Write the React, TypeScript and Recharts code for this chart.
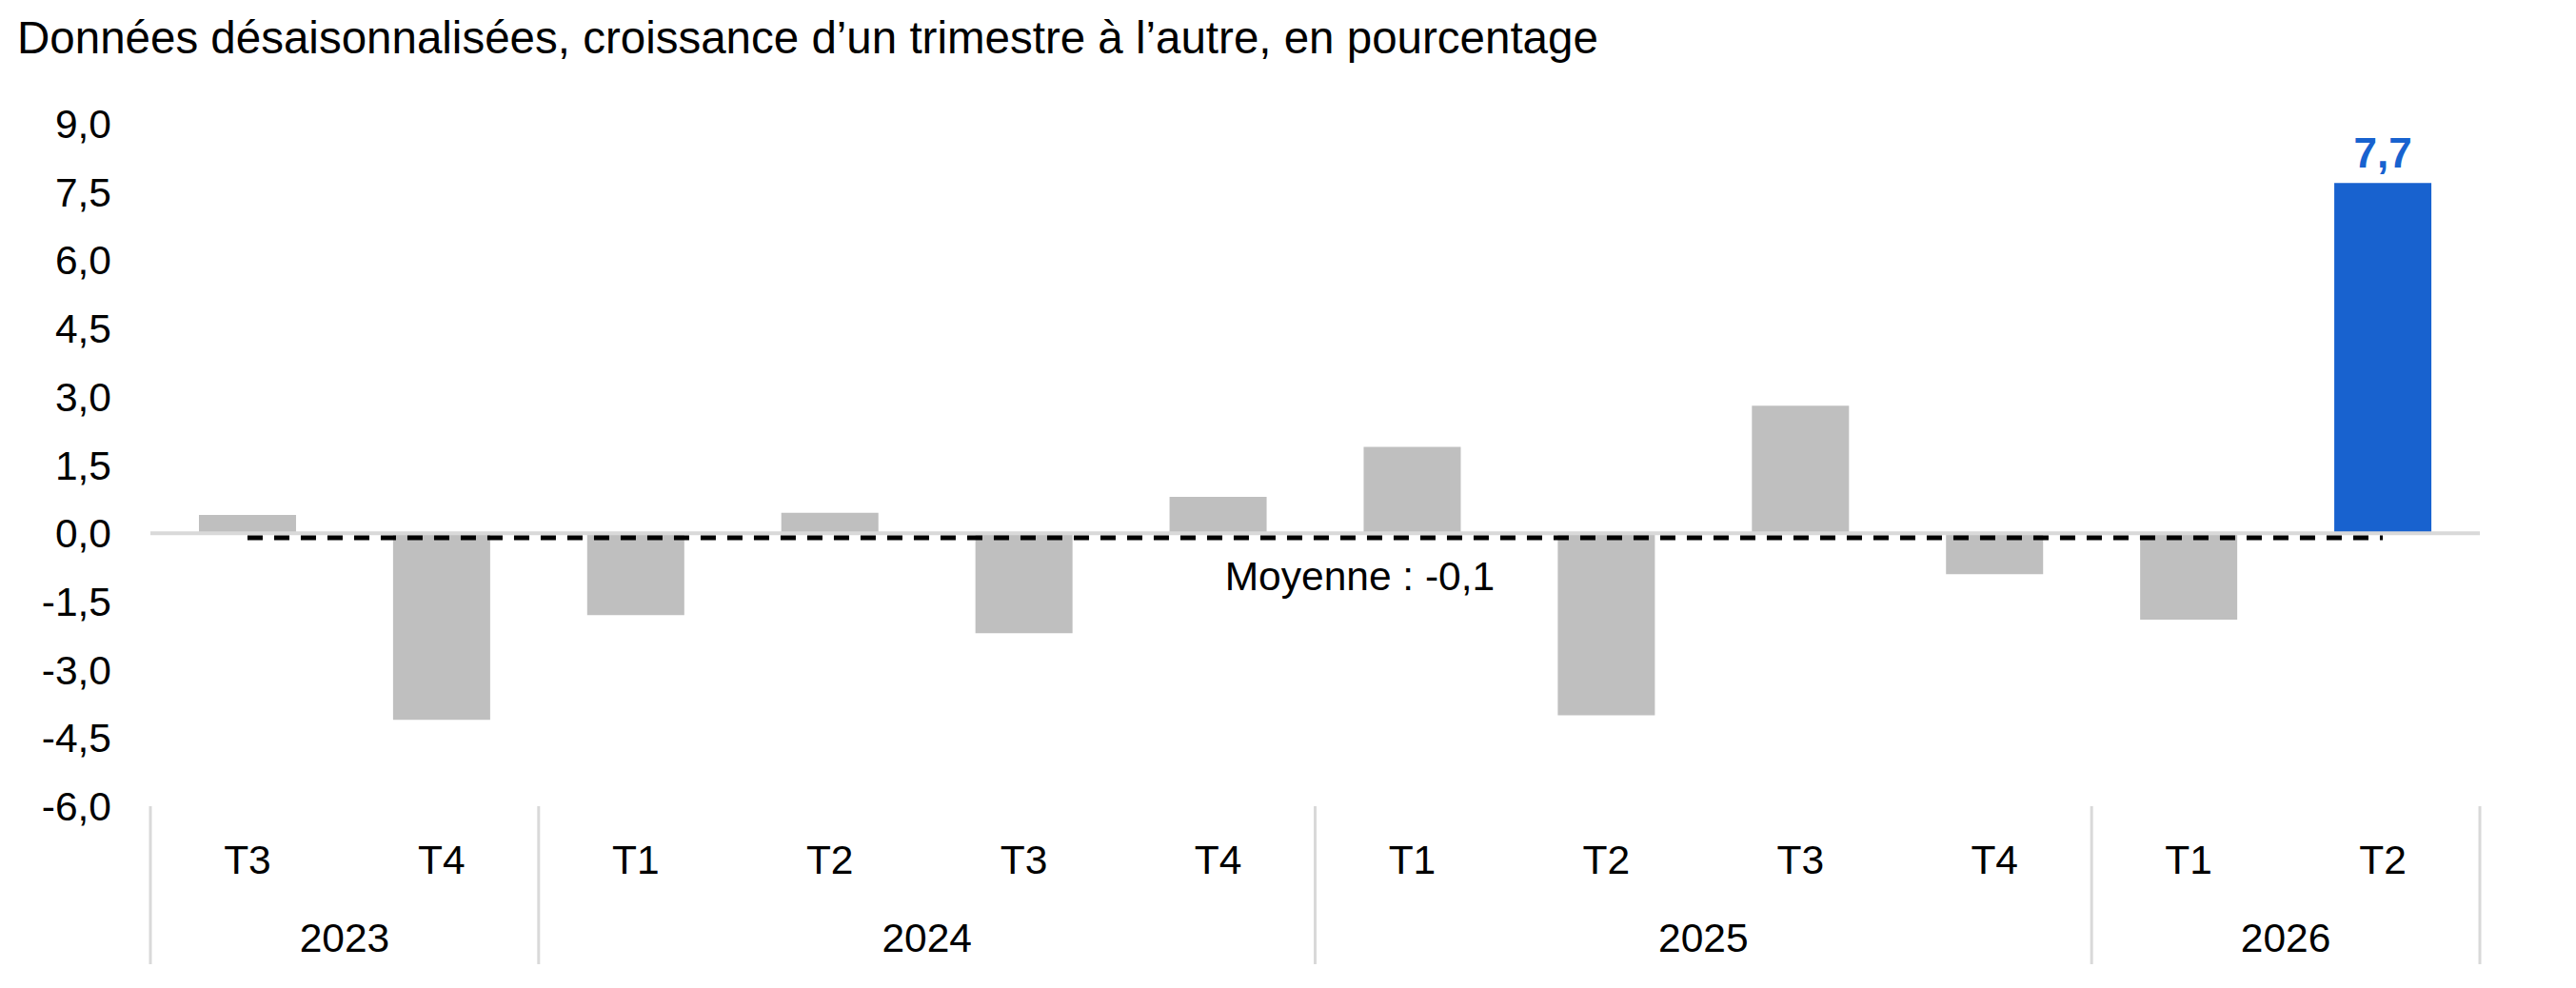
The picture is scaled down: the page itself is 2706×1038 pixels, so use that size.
import { ComposedChart, Bar, Line, XAxis, YAxis, ReferenceLine, Cell, LabelList } from 'recharts'

const TITRE = 'Données désaisonnalisées, croissance d’un trimestre à l’autre, en pourcentage'
const TRIMESTRES = ['T3', 'T4', 'T1', 'T2', 'T3', 'T4', 'T1', 'T2', 'T3', 'T4', 'T1', 'T2']
const ANNEES = ['2023', '2023', '2024', '2024', '2024', '2024', '2025', '2025', '2025', '2025', '2026', '2026']
const CROISSANCE = [0.4, -4.1, -1.8, 0.45, -2.2, 0.8, 1.9, -4.0, 2.8, -0.9, -1.9, 7.7]
const MOYENNE = -0.1
const Y_TICKS = [-6, -4.5, -3, -1.5, 0, 1.5, 3, 4.5, 6, 7.5, 9]

const donnees = TRIMESTRES.map((t, i) => ({
  trimestre: t,
  annee: ANNEES[i],
  valeur: CROISSANCE[i],
  moyenne: MOYENNE
}))
const DERNIER = donnees.length - 1

const GRIS = '#bfbfbf'
const BLEU = '#1862cf'
const TRAIT = '#d9d9d9'
const POLICE = '"Liberation Sans", Arial, sans-serif'

const virgule = (v: number) => v.toFixed(1).replace('.', ',')

// étiquettes à deux niveaux : trimestre puis année, avec séparateurs
function TickTrimestre (props: any) {
  const { x, y, payload, width, visibleTicksCount } = props
  const i = props.index ?? payload.index
  const demi = typeof payload.offset === 'number' && payload.offset > 0
    ? payload.offset
    : width / visibleTicksCount / 2
  const annee = ANNEES[i]
  const debut = i === 0 || ANNEES[i - 1] !== annee
  const fin = i === ANNEES.length - 1
  const n = ANNEES.filter(a => a === annee).length
  return (
    <g>
      <text x={x} y={y + 71} textAnchor="middle" fontSize={42.5} fontFamily={POLICE} fill="#000">
        {payload.value}
      </text>
      {debut && (
        <>
          <line x1={x - demi} x2={x - demi} y1={y} y2={y + 166} stroke={TRAIT} strokeWidth={3} />
          <text x={x - demi + n * demi} y={y + 153} textAnchor="middle" fontSize={42.5} fontFamily={POLICE} fill="#000">
            {annee}
          </text>
        </>
      )}
      {fin && <line x1={x + demi} x2={x + demi} y1={y} y2={y + 166} stroke={TRAIT} strokeWidth={3} />}
    </g>
  )
}

function EtiquetteBleue (props: any) {
  const { x, y, width, index, value } = props
  if (index !== DERNIER) return null
  return (
    <text x={x + width / 2} y={y - 16} textAnchor="middle" fontSize={44} fontWeight="bold" fontFamily={POLICE} fill={BLEU}>
      {virgule(value)}
    </text>
  )
}

function EtiquetteMoyenne (props: any) {
  const { x, y, index, value } = props
  if (index !== 6) return null
  return (
    <text x={x - 55} y={y + 55} textAnchor="middle" fontSize={42.5} fontFamily={POLICE} fill="#000">
      {`Moyenne : ${virgule(value)}`}
    </text>
  )
}

export default function App () {
  return (
    <div style={{ position: 'absolute', left: 0, top: 0, width: 2706, height: 1038, background: '#fff', fontFamily: POLICE }}>
      <div style={{ position: 'absolute', left: 18, top: 16, fontSize: 47.5, lineHeight: '47.5px', color: '#000', whiteSpace: 'nowrap' }}>
        {TITRE}
      </div>
      <ComposedChart
        width={2706}
        height={1038}
        data={donnees}
        margin={{ top: 130, right: 101, bottom: 0, left: 0 }}
        barCategoryGap="25%"
      >
        <XAxis
          dataKey="trimestre"
          height={191}
          axisLine={false}
          tickLine={false}
          tickSize={0}
          tickMargin={0}
          interval={0}
          tick={<TickTrimestre />}
        />
        <YAxis
          type="number"
          domain={[-6, 9]}
          ticks={Y_TICKS}
          width={158}
          axisLine={false}
          tickLine={false}
          tickSize={0}
          tickMargin={41}
          tickFormatter={virgule}
          tick={{ fontSize: 42.5, fill: '#000', fontFamily: POLICE }}
        />
        <ReferenceLine y={0} stroke={TRAIT} strokeWidth={4} />
        <Bar dataKey="valeur" isAnimationActive={false}>
          {donnees.map((d, i) => (
            <Cell key={i} fill={i === DERNIER ? BLEU : GRIS} />
          ))}
          <LabelList dataKey="valeur" content={EtiquetteBleue} />
        </Bar>
        <Line
          dataKey="moyenne"
          type="linear"
          stroke="#000"
          strokeWidth={5}
          strokeDasharray="16 12"
          dot={false}
          activeDot={false}
          isAnimationActive={false}
        >
          <LabelList dataKey="moyenne" content={EtiquetteMoyenne} />
        </Line>
      </ComposedChart>
    </div>
  )
}
